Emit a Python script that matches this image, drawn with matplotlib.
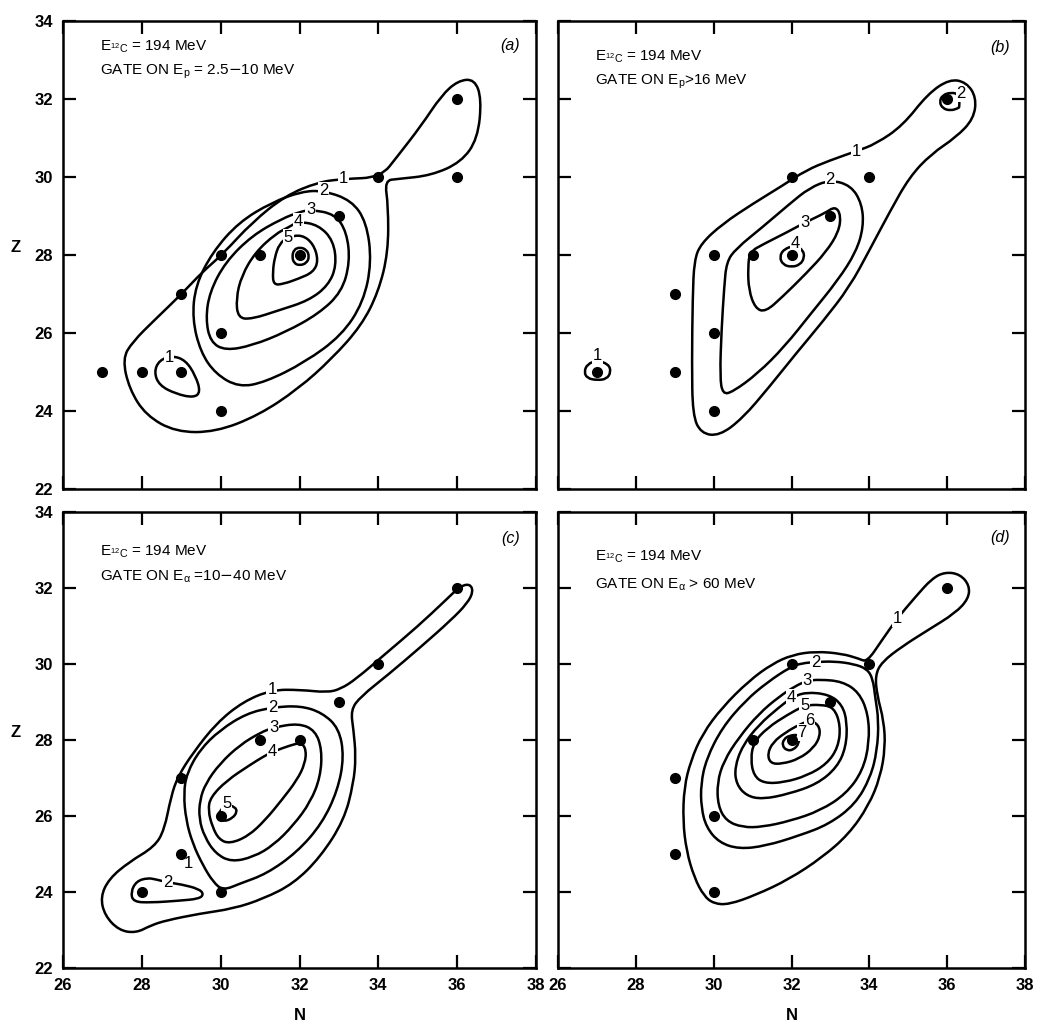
import numpy as np
import matplotlib.pyplot as plt
from matplotlib.path import Path
from matplotlib.patches import PathPatch

plt.rcParams["font.family"] = ["Liberation Sans", "DejaVu Sans"]

# -------------------------
# Measured nuclides (N, Z) for each gate
# -------------------------
dots_a_n = [27, 28, 29, 29, 30, 30, 30, 31, 32, 33, 34, 36, 36]
dots_a_z = [25, 25, 25, 27, 28, 26, 24, 28, 28, 29, 30, 32, 30]

dots_b_n = [27, 29, 29, 30, 30, 30, 31, 32, 32, 33, 34, 36]
dots_b_z = [25, 27, 25, 28, 26, 24, 28, 28, 30, 29, 30, 32]

dots_c_n = [28, 29, 29, 30, 30, 31, 32, 33, 34, 36]
dots_c_z = [24, 25, 27, 26, 24, 28, 28, 29, 30, 32]

dots_d_n = [29, 29, 30, 30, 31, 32, 32, 33, 34, 36]
dots_d_z = [27, 25, 26, 24, 28, 28, 30, 29, 30, 32]

# -------------------------
# Hand-drawn iso-yield contours, (N, Z) control points
# -------------------------
cont_a1 = [(33.11, 29.95), (34.06, 29.99), (34.50, 30.55), (35.09, 31.32), (35.60, 32.09),
           (36.02, 32.47), (36.44, 32.51), (36.62, 32.00), (36.52, 30.98), (36.10, 30.38),
           (35.34, 30.04), (34.50, 29.95), (34.16, 29.91), (34.25, 29.27), (34.25, 28.07),
           (34.00, 27.05), (33.57, 26.19), (32.82, 25.34), (31.97, 24.57), (30.96, 23.89),
           (29.87, 23.46), (28.86, 23.46), (28.10, 23.89), (27.68, 24.57), (27.51, 25.34),
           (27.76, 25.77), (28.35, 26.36), (29.01, 27.00), (29.53, 27.56), (30.04, 28.01),
           (30.80, 28.84), (31.64, 29.52), (32.48, 29.87)]
cont_a1b = [(28.77, 25.42), (29.11, 25.30), (29.36, 24.91), (29.49, 24.49), (29.32, 24.34),
            (28.86, 24.44), (28.44, 24.66), (28.31, 25.00), (28.44, 25.30)]
cont_a2 = [(32.61, 29.65), (33.32, 29.40), (33.70, 28.84), (33.83, 27.82), (33.62, 26.79),
           (33.07, 25.94), (32.14, 25.25), (31.13, 24.74), (30.46, 24.61), (29.87, 24.95),
           (29.49, 25.51), (29.28, 26.36), (29.36, 27.22), (29.79, 28.07), (30.46, 28.84),
           (31.30, 29.35), (32.06, 29.63)]
cont_a3 = [(32.29, 29.16), (32.90, 29.05), (33.20, 28.58), (33.28, 27.82), (33.07, 27.05),
           (32.48, 26.49), (31.64, 26.02), (30.80, 25.68), (30.12, 25.55), (29.74, 25.77),
           (29.62, 26.36), (29.72, 27.05), (30.12, 27.82), (30.80, 28.50), (31.55, 28.93),
           (32.02, 29.11)]
cont_a4 = [(31.97, 28.86), (32.48, 28.77), (32.86, 28.37), (32.94, 27.73), (32.73, 27.22),
           (32.23, 26.83), (31.47, 26.58), (30.80, 26.36), (30.44, 26.38), (30.39, 26.88),
           (30.53, 27.47), (30.88, 28.07), (31.39, 28.54), (31.72, 28.71)]
cont_a5 = [(32.06, 28.52), (32.35, 28.29), (32.48, 27.86), (32.35, 27.56), (31.97, 27.39),
           (31.60, 27.26), (31.34, 27.23), (31.32, 27.56), (31.37, 27.94), (31.49, 28.29),
           (31.71, 28.46)]
cont_a6 = [(32.00, 28.20), (32.18, 28.14), (32.25, 27.96), (32.18, 27.79), (32.00, 27.73),
           (31.86, 27.79), (31.81, 27.96), (31.86, 28.14)]

cont_b1 = [(33.66, 30.66), (34.17, 30.85), (34.86, 31.32), (35.50, 32.13), (36.06, 32.51),
           (36.49, 32.43), (36.75, 32.04), (36.68, 31.49), (36.23, 31.02), (35.59, 30.59),
           (35.03, 30.00), (34.52, 29.10), (34.00, 28.12), (33.49, 27.18), (32.80, 26.29),
           (32.12, 25.48), (31.43, 24.62), (30.74, 23.81), (30.14, 23.36), (29.67, 23.43),
           (29.46, 23.90), (29.44, 25.22), (29.46, 26.93), (29.50, 27.86), (29.67, 28.29),
           (30.23, 28.80), (31.00, 29.31), (31.77, 29.78), (32.37, 30.17), (32.97, 30.42)]
cont_b2 = [(32.99, 29.93), (33.53, 29.78), (33.81, 29.31), (33.85, 28.72), (33.66, 28.08),
           (33.19, 27.35), (32.50, 26.50), (31.82, 25.65), (31.13, 24.96), (30.49, 24.49),
           (30.23, 24.43), (30.16, 24.88), (30.20, 26.07), (30.27, 27.18), (30.33, 27.82),
           (30.57, 28.16), (31.26, 28.72), (31.95, 29.31), (32.46, 29.72)]
cont_b3 = [(32.34, 28.83), (32.85, 29.07), (33.13, 29.25), (33.27, 29.01), (33.21, 28.59),
           (32.89, 28.08), (32.37, 27.52), (31.77, 26.93), (31.33, 26.54), (31.07, 26.63),
           (30.90, 27.10), (30.88, 27.69), (30.93, 28.08), (31.26, 28.27), (31.86, 28.57)]
cont_b4 = [(32.10, 28.25), (32.30, 28.12), (32.33, 27.93), (32.22, 27.75), (32.00, 27.69),
           (31.78, 27.75), (31.69, 27.95), (31.80, 28.15)]
cont_b1b = [(27.00, 25.30), (27.30, 25.20), (27.36, 25.00), (27.25, 24.82), (27.00, 24.79),
            (26.75, 24.84), (26.67, 25.00), (26.75, 25.20)]
cont_b2b = [(36.30, 32.12), (36.10, 32.17), (35.88, 32.10), (35.80, 31.93), (35.88, 31.76),
            (36.08, 31.70), (36.28, 31.76), (36.32, 31.80)]

cont_c1 = [(31.30, 29.32), (32.02, 29.32), (32.70, 29.25), (33.04, 29.34), (33.43, 29.60),
           (34.15, 30.24), (35.00, 30.99), (35.68, 31.65), (36.07, 32.04), (36.32, 32.11),
           (36.41, 31.91), (36.26, 31.60), (35.85, 31.16), (35.09, 30.46), (34.24, 29.71),
           (33.55, 29.14), (33.30, 28.79), (33.37, 28.26), (33.43, 27.56), (33.37, 26.86),
           (33.13, 25.89), (32.53, 24.92), (31.85, 24.22), (31.08, 23.82), (30.32, 23.56),
           (29.47, 23.43), (28.61, 23.25), (28.23, 23.12), (27.85, 22.92), (27.42, 22.99),
           (27.06, 23.38), (26.95, 23.87), (27.17, 24.35), (27.68, 24.79), (28.32, 25.19),
           (28.57, 25.63), (28.74, 26.51), (28.91, 27.03), (29.29, 27.65), (29.89, 28.44),
           (30.57, 29.01)]
cont_c2 = [(31.32, 28.86), (32.02, 28.90), (32.57, 28.72), (33.00, 28.31), (33.13, 27.56),
           (32.97, 26.68), (32.57, 25.80), (31.94, 25.05), (31.17, 24.48), (30.49, 24.22),
           (30.06, 24.04), (29.81, 24.26), (29.55, 24.70), (29.29, 25.27), (29.12, 25.89),
           (29.06, 26.59), (29.14, 27.12), (29.47, 27.74), (29.98, 28.26), (30.66, 28.70)]
cont_c2b = [(28.66, 24.25), (29.00, 24.20), (29.45, 24.08), (29.57, 23.94), (29.45, 23.82),
            (28.95, 23.77), (28.23, 23.72), (27.78, 23.74), (27.72, 24.00), (27.86, 24.28),
            (28.14, 24.37), (28.36, 24.33)]
cont_c3 = [(31.34, 28.33), (31.98, 28.44), (32.40, 28.25), (32.57, 27.74), (32.53, 27.03),
           (32.28, 26.37), (31.85, 25.76), (31.34, 25.23), (30.83, 24.92), (30.27, 24.79),
           (29.87, 25.01), (29.59, 25.45), (29.45, 25.93), (29.47, 26.42), (29.62, 26.86),
           (29.98, 27.38), (30.49, 27.87), (31.00, 28.19)]
cont_c4 = [(31.32, 27.69), (31.77, 27.86), (32.04, 27.93), (32.17, 27.75), (32.14, 27.38),
           (31.94, 26.95), (31.55, 26.42), (31.13, 25.89), (30.70, 25.47), (30.23, 25.27),
           (29.96, 25.38), (29.79, 25.71), (29.68, 26.15), (29.74, 26.49), (30.15, 26.93),
           (30.74, 27.34), (31.08, 27.56)]
cont_c5 = [(30.15, 26.30), (30.36, 26.24), (30.42, 26.11), (30.30, 25.94), (30.08, 25.85),
           (29.91, 25.94), (29.98, 26.14)]

cont_d1 = [(33.94, 30.05), (34.32, 30.62), (34.71, 31.19), (35.18, 31.76), (35.61, 32.25),
           (35.95, 32.42), (36.33, 32.36), (36.57, 32.07), (36.55, 31.72), (36.21, 31.34),
           (35.52, 30.90), (34.84, 30.46), (34.32, 30.05), (34.15, 29.70), (34.20, 29.17),
           (34.37, 28.51), (34.41, 27.81), (34.28, 27.02), (33.98, 26.27), (33.47, 25.52),
           (32.79, 24.91), (31.93, 24.33), (31.08, 23.92), (30.39, 23.67), (30.01, 23.69),
           (29.75, 23.89), (29.50, 24.38), (29.30, 25.08), (29.21, 25.87), (29.24, 26.75),
           (29.41, 27.45), (29.71, 28.16), (30.22, 28.86), (30.91, 29.56), (31.50, 30.00),
           (32.02, 30.24), (32.62, 30.33), (33.30, 30.27), (33.73, 30.14)]
cont_d2 = [(32.62, 30.05), (33.09, 30.07), (33.60, 30.00), (33.94, 29.87), (34.09, 29.61),
           (34.15, 29.13), (34.24, 28.51), (34.20, 27.72), (34.03, 27.02), (33.64, 26.31),
           (32.96, 25.78), (32.19, 25.48), (31.33, 25.21), (30.65, 25.13), (30.14, 25.30),
           (29.81, 25.70), (29.68, 26.22), (29.67, 26.84), (29.81, 27.50), (30.22, 28.33),
           (30.82, 29.04), (31.38, 29.52), (31.97, 29.92), (32.27, 30.02)]
cont_d3 = [(32.40, 29.56), (32.74, 29.59), (33.30, 29.54), (33.73, 29.26), (33.97, 28.69),
           (34.00, 27.94), (33.83, 27.19), (33.40, 26.58), (32.74, 26.14), (31.97, 25.87),
           (31.25, 25.71), (30.74, 25.70), (30.32, 25.87), (30.11, 26.27), (30.09, 26.88),
           (30.26, 27.45), (30.65, 28.07), (31.16, 28.69), (31.68, 29.14), (32.10, 29.42)]
cont_d4 = [(32.00, 29.11), (32.36, 29.26), (32.96, 29.20), (33.30, 28.93), (33.43, 28.47),
           (33.40, 27.81), (33.17, 27.28), (32.66, 26.84), (31.93, 26.58), (31.25, 26.44),
           (30.84, 26.53), (30.58, 26.84), (30.54, 27.28), (30.74, 27.85), (31.16, 28.40),
           (31.68, 28.86)]
cont_d5 = [(32.34, 28.91), (32.74, 28.93), (33.09, 28.86), (33.26, 28.38), (33.20, 27.81),
           (32.91, 27.37), (32.40, 27.06), (31.80, 26.88), (31.29, 26.86), (31.03, 27.06),
           (30.95, 27.50), (31.03, 27.94), (31.38, 28.32), (31.89, 28.66)]
cont_d6 = [(32.47, 28.51), (32.70, 28.40), (32.74, 28.11), (32.57, 27.79), (32.19, 27.50),
           (31.76, 27.37), (31.46, 27.38), (31.38, 27.63), (31.52, 27.94), (31.85, 28.20),
           (32.19, 28.40)]
cont_d7 = [(32.20, 28.14), (32.19, 27.90), (32.05, 27.74), (31.88, 27.72), (31.76, 27.85),
           (31.80, 28.02), (31.95, 28.12)]

# contour level labels: (text, N, Z)
labels_a = [("1", 33.11, 29.95), ("1", 28.69, 25.38), ("2", 32.61, 29.65),
            ("3", 32.29, 29.16), ("4", 31.97, 28.86), ("5", 31.71, 28.46)]
labels_b = [("1", 33.66, 30.66), ("2", 32.99, 29.93), ("3", 32.34, 28.83),
            ("4", 32.10, 28.29), ("1", 27.01, 25.43), ("2", 36.36, 32.13)]
labels_c = [("1", 31.30, 29.32), ("2", 31.32, 28.86), ("3", 31.34, 28.33),
            ("4", 31.32, 27.69), ("5", 30.15, 26.33), ("2", 28.66, 24.25),
            ("1", 29.19, 24.75)]
labels_d = [("1", 34.71, 31.19), ("2", 32.62, 30.05), ("3", 32.40, 29.56),
            ("4", 32.00, 29.11), ("5", 32.34, 28.91), ("6", 32.47, 28.51),
            ("7", 32.27, 28.20)]

gates = [r"GATE ON $\mathregular{E_p}$ = 2.5$-$10 MeV",
         r"GATE ON $\mathregular{E_p}$>16 MeV",
         r"GATE ON $\mathregular{E_\alpha}$ =10$-$40 MeV",
         r"GATE ON $\mathregular{E_\alpha}$ > 60 MeV"]
beam = r"$\mathregular{E_{{}^{12}C}}$ = 194 MeV"
panel_tags = ["(a)", "(b)", "(c)", "(d)"]

N_TICKS = [26, 28, 30, 32, 34, 36, 38]
Z_TICKS = [22, 24, 26, 28, 30, 32, 34]


def closed_curve(points):
    # smooth closed outline: quadratic Bezier segments through edge midpoints
    pts = np.asarray(points, dtype=float)
    mids = (pts + np.roll(pts, -1, axis=0)) / 2
    verts = [mids[-1]]
    codes = [Path.MOVETO]
    for p, m in zip(pts, mids):
        verts += [p, m]
        codes += [Path.CURVE3, Path.CURVE3]
    return Path(verts, codes)


def draw_panel(ax, dots_n, dots_z, contours, labels, gate, tag, text_z):
    for c in contours:
        ax.add_patch(PathPatch(closed_curve(c), facecolor="none",
                               edgecolor="black", lw=1.8, zorder=2))
    for txt, n, z in labels:
        ax.text(n, z, txt, ha="center", va="center", fontsize=12, zorder=3,
                bbox=dict(boxstyle="square,pad=0.05", fc="white", ec="none"))
    ax.plot(dots_n, dots_z, "o", color="black", ms=7, zorder=4)

    ax.text(26.95, text_z[0], beam, fontsize=11, va="center", ha="left")
    ax.text(26.95, text_z[1], gate, fontsize=11, va="center", ha="left")
    ax.text(37.35, text_z[2], tag, fontsize=11.5, style="italic",
            va="center", ha="center")

    ax.set_xlim(26, 38)
    ax.set_ylim(22, 34)
    ax.set_xticks(N_TICKS)
    ax.set_yticks(Z_TICKS)
    ax.tick_params(direction="in", length=9.5, width=1.6, top=True, right=True,
                   labelsize=12, pad=7)
    for lab in ax.get_xticklabels() + ax.get_yticklabels():
        lab.set_fontweight("bold")
    for sp in ax.spines.values():
        sp.set_linewidth(1.8)


fig = plt.figure(figsize=(10.38, 10.28), dpi=100)
ax_a = fig.add_axes([0.0607, 0.5243, 0.4557, 0.4553])
ax_b = fig.add_axes([0.5376, 0.5243, 0.4499, 0.4553])
ax_c = fig.add_axes([0.0607, 0.0584, 0.4557, 0.4436])
ax_d = fig.add_axes([0.5376, 0.0584, 0.4499, 0.4436])

draw_panel(ax_a, dots_a_n, dots_a_z,
           [cont_a1, cont_a1b, cont_a2, cont_a3, cont_a4, cont_a5, cont_a6],
           labels_a, gates[0], panel_tags[0], (33.33, 32.70, 33.38))
draw_panel(ax_b, dots_b_n, dots_b_z,
           [cont_b1, cont_b2, cont_b3, cont_b4, cont_b1b, cont_b2b],
           labels_b, gates[1], panel_tags[1], (33.08, 32.44, 33.33))
draw_panel(ax_c, dots_c_n, dots_c_z,
           [cont_c1, cont_c2, cont_c2b, cont_c3, cont_c4, cont_c5],
           labels_c, gates[2], panel_tags[2], (32.95, 32.29, 33.31))
draw_panel(ax_d, dots_d_n, dots_d_z,
           [cont_d1, cont_d2, cont_d3, cont_d4, cont_d5, cont_d6, cont_d7],
           labels_d, gates[3], panel_tags[3], (32.82, 32.08, 33.34))

ax_a.tick_params(labelbottom=False)
ax_b.tick_params(labelbottom=False, labelleft=False)
ax_d.tick_params(labelleft=False)

for ax in (ax_a, ax_c):
    ax.set_ylabel("Z", rotation=0, fontsize=12, fontweight="bold")
    ax.yaxis.set_label_coords(-0.1, 0.5)
for ax in (ax_c, ax_d):
    ax.set_xlabel("N", fontsize=12, fontweight="bold", labelpad=11)

fig.savefig("out.png", dpi=100)
